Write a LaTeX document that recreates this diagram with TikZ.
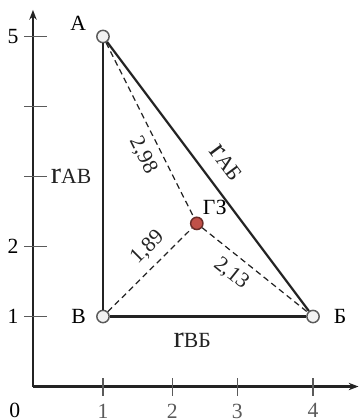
\documentclass[tikz,border=0pt]{standalone}
\usepackage{fontspec}
\setmainfont{Liberation Serif}
\usepackage{tikz}
\usetikzlibrary{arrows.meta,positioning}
\definecolor{trait}{RGB}{35,35,35}
\definecolor{repere}{RGB}{90,90,90}
\definecolor{gzfond}{RGB}{192,80,72}
\newcommand{\rdist}[1]{{\fontsize{12.5}{13}\selectfont r}#1}

\begin{document}
\begin{tikzpicture}[font=\fontsize{8.8}{10}\selectfont,
    axe/.style={trait,line width=0.9pt},
    cote/.style={trait,line width=0.5pt,dash pattern=on 2.4pt off 1.6pt},
    pt/.style={circle,draw=repere,fill=black!5,line width=0.6pt,
               minimum size=5pt,inner sep=0pt},
    every label/.style={inner sep=1pt},
    label distance=3pt]
    % 1 unite = 1 cm
    \useasboundingbox (-0.471,-0.464) rectangle (4.671,5.521);
    \draw[axe,-{Stealth[length=4pt,width=3pt]}](0,0)--(4.65,0);
    \draw[axe,-{Stealth[length=4pt,width=3pt]}](0,0)--(0,5.38);
    \foreach \p/\t in {1/1,1.99/2,2.92/3,4/4}{
      \draw[repere,line width=0.6pt] (\p,0.12)--(\p,-0.13) node[below,inner sep=3pt]{\t};}
    \node[below,inner sep=3pt] (zero) at (-0.26,-0.13){0};
    \foreach \y in {1,...,5}{
      \draw[repere,line width=0.6pt] (0.2,\y)--(-0.13,\y);}
    \foreach \y in {1,2,5}{
      \node[left,inner sep=2pt] at (-0.13,\y){\y};}
    % sommets et gisement
    \node[pt,label={168:А}] (A) at (1,5){};
    \node[pt,label={180:В}] (V) at (1,1){};
    \node[pt,label={[label distance=4.5pt]0:Б}] (B) at (4,1){};
    \node[pt,fill=gzfond,draw=gzfond!55!black,label={[label distance=0pt]63:ГЗ}] (GZ) at (2.34,2.33){};
    \draw[axe] (A)--node[left=1pt]{\rdist{АВ}}(V);
    \draw[axe] (V)--node[pos=0.42,below=3pt]{\rdist{ВБ}}(B);
    \draw[axe] (A)--node[sloped,above=2.5pt]{\rdist{АБ}}(B);
    \draw[cote] (A)--node[pos=0.6,sloped,below=0pt]{2,98}(GZ);
    \draw[cote] (V)--node[pos=0.62,sloped,above=0pt]{1,89}(GZ);
    \draw[cote] (GZ)--node[pos=0.38,sloped,below=0pt]{2,13}(B);
\end{tikzpicture}
\end{document}
